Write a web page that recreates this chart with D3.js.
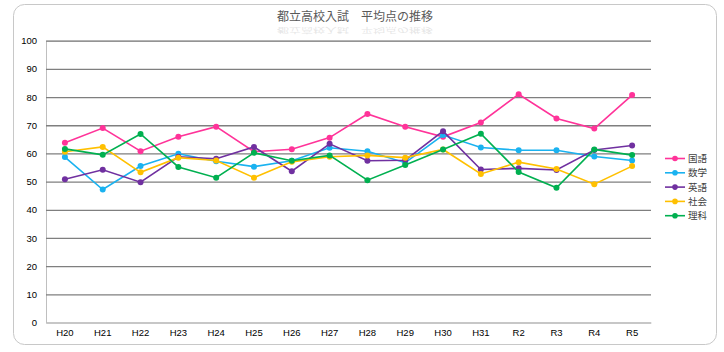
<!DOCTYPE html>
<html lang="ja">
<head>
<meta charset="UTF-8">
<title>都立高校入試 平均点の推移</title>
<style>
  body { margin: 0; background: #fff; }
  svg { display: block; font-family: "Liberation Sans", Arial, sans-serif; }
</style>
</head>
<body>
<svg id="chart" width="724" height="352"></svg>

<script src="https://cdn.jsdelivr.net/npm/d3@7"></script>
<script>

// data
let years = ["H20","H21","H22","H23","H24","H25","H26","H27","H28","H29","H30","H31","R2","R3","R4","R5"]
let subjects = ["国語","数学","英語","社会","理科"]
let colors = ["#ff3399","#1ab2f0","#7030a0","#ffc000","#00b050"]

let kokugo = [63.8,69.0,60.8,65.9,69.5,60.6,61.5,65.6,74.0,69.5,65.9,71.0,81.0,72.4,68.8,80.7]
let sugaku = [58.7,47.2,55.5,59.9,57.2,55.3,57.4,62.0,60.8,56.7,66.5,62.1,61.1,61.1,58.9,57.5]
let eigo   = [50.8,54.2,49.8,58.8,58.1,62.3,53.7,63.4,57.4,57.6,67.9,54.3,54.7,54.1,61.2,62.8]
let shakai = [60.6,62.3,53.3,58.5,57.5,51.4,57.0,58.8,59.3,58.5,61.4,52.7,56.9,54.5,49.1,55.5]
let rika   = [61.6,59.5,66.9,55.2,51.4,60.2,57.4,59.3,50.5,55.9,61.4,67.0,53.4,47.8,61.4,59.4]

let yTicks = [0,10,20,30,40,50,60,70,80,90,100]

let series = [kokugo, sugaku, eigo, shakai, rika].map((vals, i) => ({
    name: subjects[i],
    color: colors[i],
    values: vals
}))

let svg = d3.select("#chart")

// outer frame
svg.append("rect")
    .attr("x", 13.5).attr("y", 4.5)
    .attr("width", 703).attr("height", 340)
    .attr("rx", 11)
    .attr("fill", "#fff")
    .attr("stroke", "#c8c8c8")

// title + faint squashed reflection underneath
let title = "都立高校入試　平均点の推移"
svg.append("text")
    .attr("x", 355).attr("y", 21)
    .attr("text-anchor", "middle")
    .attr("font-family", "'Noto Sans CJK JP', sans-serif")
    .attr("font-size", 12)
    .attr("fill", "#595959")
    .text(title)
svg.append("text")
    .attr("text-anchor", "middle")
    .attr("transform", "translate(355,28) scale(1,-0.55)")
    .attr("font-family", "'Noto Sans CJK JP', sans-serif")
    .attr("font-size", 12)
    .attr("fill", "#595959")
    .attr("opacity", 0.15)
    .text(title)

let plotLeft = 46, plotRight = 651, plotTop = 40.7, plotBottom = 322.5

let x = d3.scaleBand()
    .domain(years)
    .range([plotLeft, plotRight])

let y = d3.scaleLinear()
    .domain([0, 100])
    .range([plotBottom, plotTop])

// horizontal grid
let yAxis = d3.axisLeft(y)
    .tickValues(yTicks)
    .tickSize(-(plotRight - plotLeft))
    .tickPadding(9)
svg.append("g")
    .attr("transform", `translate(${plotLeft},0)`)
    .call(yAxis)
    .call(g => g.select(".domain").attr("stroke", "#bfbfbf"))
    .call(g => g.selectAll(".tick line")
        .attr("stroke", d => d === 0 ? "#bfbfbf" : "#7f7f7f")
        .attr("stroke-width", d => d === 0 ? 1 : 1.3))
    .call(g => g.selectAll(".tick text")
        .attr("font-size", 9.5)
        .attr("fill", "#000"))

let xAxis = d3.axisBottom(x)
    .tickSize(0)
    .tickPadding(7)
svg.append("g")
    .attr("transform", `translate(0,${plotBottom})`)
    .call(xAxis)
    .call(g => g.select(".domain").attr("stroke", "#bfbfbf"))
    .call(g => g.selectAll(".tick text")
        .attr("font-size", 9.5)
        .attr("fill", "#000"))

let cx = d => x(d) + x.bandwidth() / 2

let line = d3.line()
    .x((d, i) => cx(years[i]))
    .y(d => y(d))

let groups = svg.append("g")
    .selectAll("g")
    .data(series)
    .join("g")

groups.append("path")
    .attr("d", d => line(d.values))
    .attr("fill", "none")
    .attr("stroke", d => d.color)
    .attr("stroke-width", 1.6)

groups.each(function(s) {
    d3.select(this).selectAll("circle")
        .data(s.values)
        .join("circle")
        .attr("cx", (d, i) => cx(years[i]))
        .attr("cy", d => y(d))
        .attr("r", 3)
        .attr("fill", s.color)
})

// legend
let legend = svg.append("g")
    .selectAll("g")
    .data(series)
    .join("g")
    .attr("transform", (d, i) => `translate(665,${158.5 + i * 14.3})`)

legend.append("line")
    .attr("x1", 0).attr("x2", 20)
    .attr("stroke", d => d.color)
    .attr("stroke-width", 1.6)
legend.append("circle")
    .attr("cx", 10).attr("r", 2.8)
    .attr("fill", d => d.color)
legend.append("text")
    .attr("x", 23).attr("y", 3.5)
    .attr("font-family", "'Noto Sans CJK JP', sans-serif")
    .attr("font-size", 9.5)
    .attr("fill", "#404040")
    .text(d => d.name)

</script>
</body>
</html>
